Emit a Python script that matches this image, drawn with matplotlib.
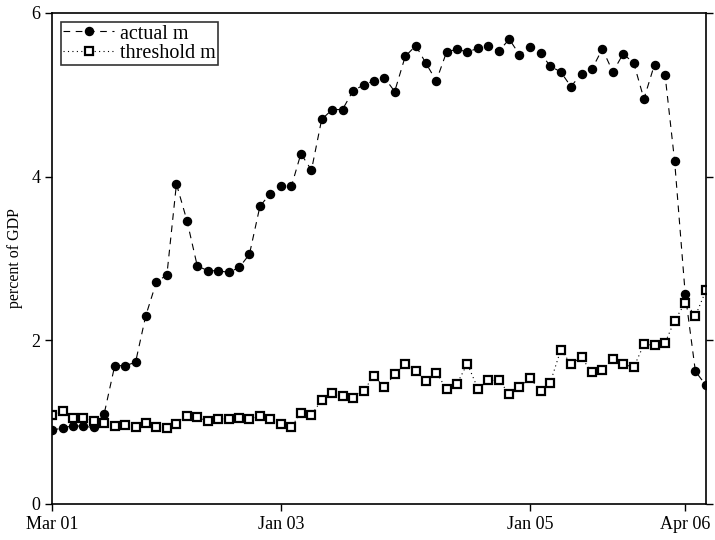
import matplotlib
matplotlib.use("Agg")
import matplotlib.pyplot as plt
import pandas as pd

dates = pd.date_range("2001-03-01", periods=64, freq="MS")

actual_m = [0.90, 0.93, 0.955, 0.95, 0.935, 1.10, 1.69, 1.69, 1.73, 2.30,
            2.71, 2.80, 3.91, 3.46, 2.91, 2.85, 2.85, 2.83, 2.89, 3.05,
            3.64, 3.79, 3.88, 3.88, 4.28, 4.08, 4.70, 4.82, 4.82, 5.05,
            5.12, 5.17, 5.21, 5.04, 5.47, 5.60, 5.39, 5.17, 5.52, 5.56,
            5.52, 5.57, 5.60, 5.53, 5.68, 5.49, 5.58, 5.51, 5.35, 5.28,
            5.10, 5.26, 5.31, 5.56, 5.28, 5.50, 5.39, 4.95, 5.37, 5.24,
            4.19, 2.57, 1.62, 1.45]

threshold_m = [1.09, 1.14, 1.055, 1.055, 1.02, 0.99, 0.95, 0.965, 0.94, 0.985,
               0.945, 0.925, 0.98, 1.075, 1.065, 1.01, 1.04, 1.04, 1.045, 1.04,
               1.07, 1.035, 0.98, 0.945, 1.11, 1.09, 1.27, 1.355, 1.315, 1.30,
               1.385, 1.565, 1.425, 1.585, 1.71, 1.62, 1.505, 1.60, 1.41, 1.47,
               1.715, 1.41, 1.51, 1.51, 1.35, 1.43, 1.535, 1.385, 1.48, 1.88,
               1.715, 1.79, 1.61, 1.64, 1.77, 1.71, 1.67, 1.95, 1.94, 1.97,
               2.24, 2.46, 2.30, 2.61]

tick_dates = ["2001-03-01", "2003-01-01", "2005-01-01", "2006-04-01"]
tick_labels = ["Mar 01", "Jan 03", "Jan 05", "Apr 06"]
y_ticks = [0, 2, 4, 6]

plt.rcParams['font.family'] = ['Liberation Serif', 'DejaVu Serif']

fig = plt.figure(figsize=(7.15, 5.4), dpi=100)
ax = fig.add_axes([0.0727, 0.0667, 0.9147, 0.9093])

ax.plot(dates, actual_m, color='black', linestyle=(0, (6, 5)), linewidth=0.8,
        marker='o', markersize=5.8, markerfacecolor='black', markeredgecolor='black',
        label='actual m')
ax.plot(dates, threshold_m, color='black', linestyle=(0, (1, 3)), linewidth=0.8,
        marker='s', markersize=5.5, markerfacecolor='white', markeredgecolor='black',
        markeredgewidth=1.6, label='threshold m')

ax.set_xlim(dates[0], dates[-1])
ax.set_ylim(0, 6)
ax.set_yticks(y_ticks)
ax.set_xticks(pd.to_datetime(tick_dates))
ax.set_xticklabels(tick_labels)
ax.tick_params(direction='out', length=5, width=1, labelsize=13, right=True)
ax.set_ylabel('percent of GDP', fontsize=11.5, labelpad=6)

for s in ax.spines.values():
    s.set_linewidth(1.2)

leg = ax.legend(loc='upper left', fontsize=14.5, frameon=True, fancybox=False,
                edgecolor='black', handlelength=2.5, borderaxespad=0.45,
                borderpad=0.12, labelspacing=0.0, handletextpad=0.3)
leg.get_frame().set_linewidth(1.2)

fig.savefig('out.png', dpi=100)
